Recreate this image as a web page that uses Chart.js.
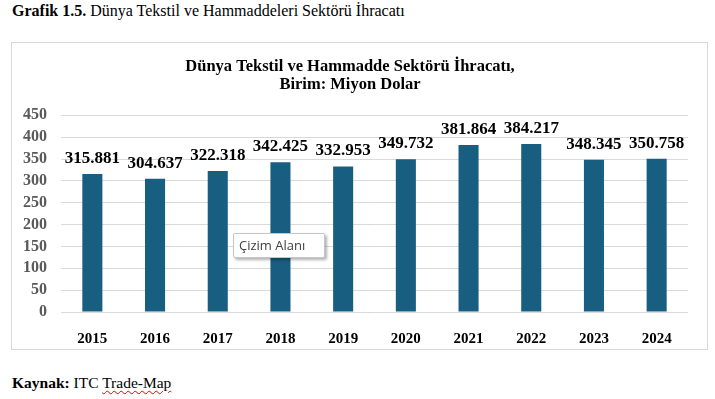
<!DOCTYPE html>
<html>
<head>
<meta charset="utf-8">
<script src="https://cdn.jsdelivr.net/npm/chart.js@4.4.1/dist/chart.umd.min.js"></script>
<style>
  body { margin: 0; background: #fff; width: 715px; height: 399px; position: relative; overflow: hidden; font-family: "Liberation Serif", "Times New Roman", serif; }
  #head { position: absolute; left: 12px; top: 2px; font-size: 16px; color: #000; }
  #frame { position: absolute; left: 11px; top: 42px; width: 695px; height: 306px; border: 1px solid #d9d9d9; }
  #frame canvas { position: absolute; left: 0; top: 0; }
  #foot { position: absolute; left: 12px; top: 374px; font-size: 15.5px; color: #000; }
  .wavy { text-decoration: underline wavy #e00; text-decoration-thickness: 1px; text-underline-offset: 2px; }
  #tip { position: absolute; left: 233px; top: 233px; width: 85px; height: 23px; background: #fff; border: 1px solid #c6c6c6; border-radius: 2px; box-shadow: 2px 2px 3px rgba(0,0,0,0.3); font-family: "Open Sans", "Noto Sans", sans-serif; font-size: 13px; color: #404040; line-height: 23px; padding-left: 5px; box-sizing: content-box; }
</style>
</head>
<body>
<div id="head"><b>Grafik 1.5.</b> Dünya Tekstil ve Hammaddeleri Sektörü İhracatı</div>
<div id="frame"><canvas id="myChart" width="695" height="306"></canvas></div>
<div id="tip">Çizim Alanı</div>
<div id="foot"><b>Kaynak:</b> ITC <span class="wavy">Trade-Map</span></div>
<script>
const years = ['2015', '2016', '2017', '2018', '2019', '2020', '2021', '2022', '2023', '2024'];
const exports = [315.881, 304.637, 322.318, 342.425, 332.953, 349.732, 381.864, 384.217, 348.345, 350.758];
const yTicks = [0, 50, 100, 150, 200, 250, 300, 350, 400, 450];
const titleLines = ['Dünya Tekstil ve Hammadde Sektörü İhracatı,', 'Birim: Miyon Dolar'];

const serif = '"Liberation Serif", "Times New Roman", serif';

// value labels above the bars
const valueLabels = {
  id: 'valueLabels',
  afterDatasetsDraw(chart) {
    const ctx = chart.ctx;
    const meta = chart.getDatasetMeta(0);
    ctx.save();
    ctx.font = 'bold 17px ' + serif;
    ctx.fillStyle = '#000';
    ctx.textAlign = 'center';
    ctx.textBaseline = 'alphabetic';
    meta.data.forEach((bar, i) => {
      ctx.fillText(exports[i].toFixed(3), bar.x, bar.y - 11);
    });
    ctx.restore();
  }
};

const ctx = document.getElementById('myChart');
let chart = new Chart(ctx, {
  type: 'bar',
  data: {
    labels: years,
    datasets: [{
      data: exports,
      backgroundColor: '#175e80',
      barPercentage: 0.32,
      categoryPercentage: 1
    }]
  },
  options: {
    responsive: false,
    animation: false,
    layout: { padding: { left: 0, right: 19, top: 0, bottom: 0 } },
    plugins: {
      legend: { display: false },
      tooltip: { enabled: false },
      title: {
        display: true,
        text: titleLines,
        color: '#000',
        font: { family: serif, size: 16.5, weight: 'bold', lineHeight: 1.1 },
        padding: { top: 15, bottom: 21 }
      }
    },
    scales: {
      x: {
        grid: { display: false },
        border: { display: false },
        ticks: { color: '#000', font: { family: serif, size: 15, weight: 'bold' }, padding: 10 },
        afterFit(scale) { scale.height = 37; }
      },
      y: {
        min: 0,
        max: 450,
        afterBuildTicks(scale) { scale.ticks = yTicks.map(v => ({ value: v })); },
        grid: { color: '#d9d9d9', drawTicks: false },
        border: { display: false },
        ticks: { color: '#595959', font: { family: serif, size: 16, weight: 'bold' }, padding: 14, autoSkip: false },
        afterFit(scale) { scale.width = 49; }
      }
    }
  },
  plugins: [valueLabels]
});
</script>
</body>
</html>
